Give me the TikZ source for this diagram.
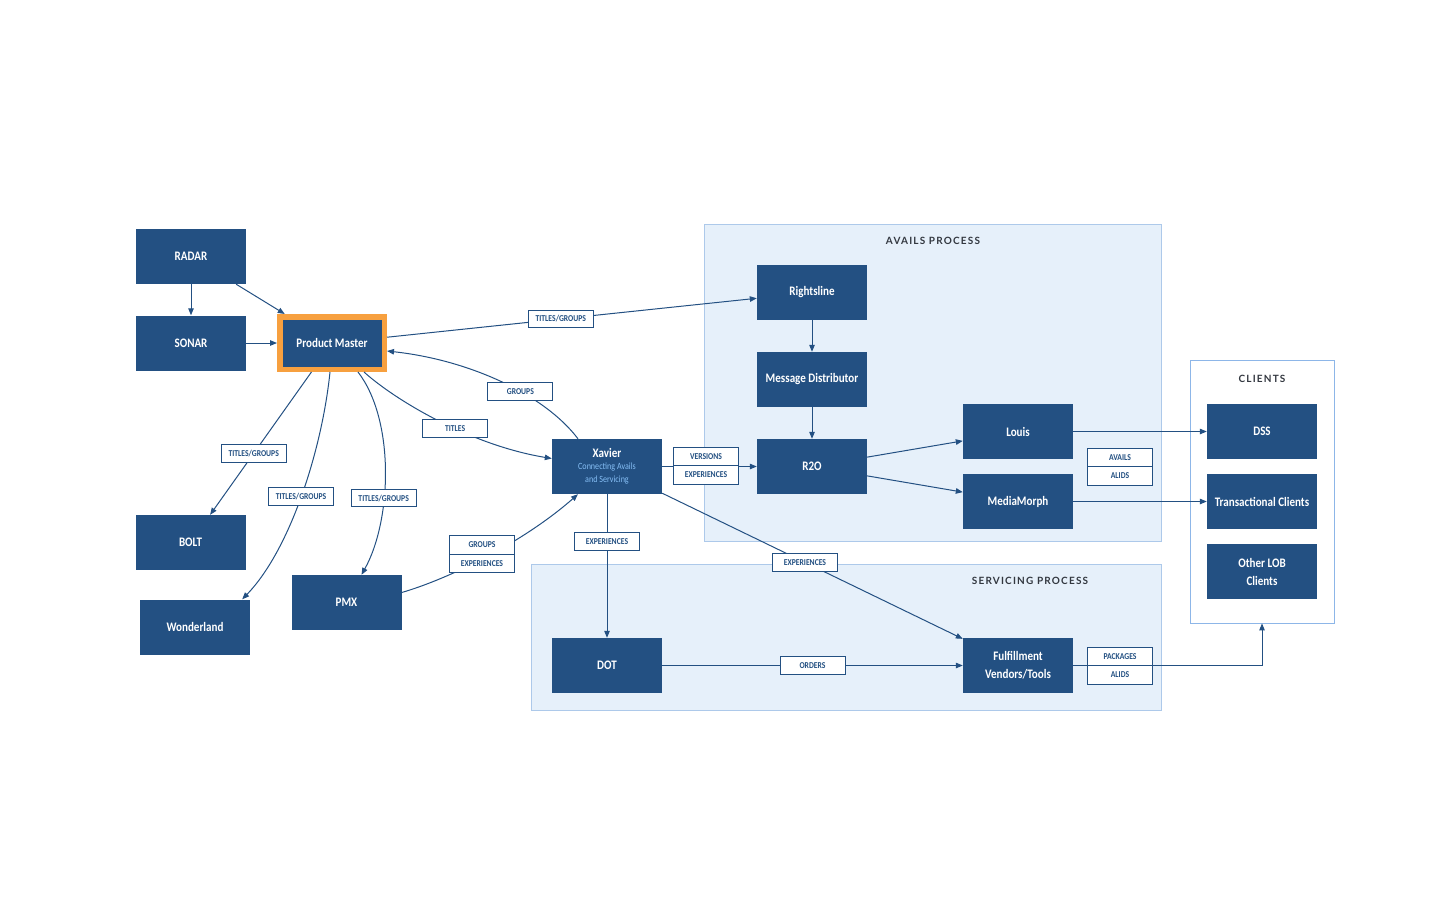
\documentclass[tikz,border=0pt]{standalone}
\usepackage{fontspec}
\setmainfont{Carlito}[FakeStretch=0.85]
\newfontfamily\headfont{Lato}[LetterSpace=12]
\usepackage{tikz}
\usetikzlibrary{arrows.meta, positioning, calc}
\definecolor{sysblue}{HTML}{235082}
\definecolor{pmorange}{HTML}{F7A03F}
\definecolor{zonefill}{HTML}{E6F0FA}
\definecolor{zoneedge}{HTML}{ADC9EA}
\definecolor{clientedge}{HTML}{8DB6E8}
\definecolor{subtext}{HTML}{85BEF5}
\definecolor{headtext}{HTML}{333840}
\tikzset{
  sysbox/.style={fill=sysblue, text=white, minimum width=110pt, minimum height=55pt,
    inner sep=2pt, align=center, font=\fontsize{13}{18}\selectfont\bfseries},
  tagbox/.style={draw=sysblue, fill=white, text=sysblue, line width=0.9pt,
    minimum width=65pt, minimum height=17.5pt, inner sep=1pt, outer sep=0pt,
    font=\fontsize{9}{10}\selectfont\bfseries},
  zone/.style={fill=zonefill, draw=zoneedge, line width=0.8pt, inner sep=0pt},
  zonetitle/.style={text=headtext, font=\headfont\bfseries\fontsize{10}{12}\selectfont},
  flow/.style={draw=sysblue, line width=1pt, -{Triangle[length=7pt,width=5.5pt]}},
}
\newcommand{\subline}[1]{{\fontsize{9.5}{10}\selectfont\mdseries\color{subtext}#1}}
\newcommand{\duotag}[5]{%
  \node[tagbox, minimum height=18.5pt] (#1up) at (#2,#3-9.25) {#4};
  \node[tagbox, minimum height=18.5pt, below=0pt of #1up] (#1dn) {#5};
}

\begin{document}
\begin{tikzpicture}[x=1pt, y=-1pt]
  \useasboundingbox (0,0) rectangle (1440,900);

  % Process zones
  \node[zone, minimum width=457pt, minimum height=317pt] (avails) at (932.5,382.5) {};
  \node[zone, minimum width=630pt, minimum height=146pt] (servicing) at (846,637) {};
  \node[zone, fill=white, draw=clientedge, minimum width=144pt, minimum height=263pt] (clients) at (1262,491.5) {};
  \node[zonetitle] (availshead) at (933,241) {AVAILS PROCESS};
  \node[zonetitle] (servhead) at (1030,581) {SERVICING PROCESS};
  \node[zonetitle] (clienthead) at (1262,379) {CLIENTS};

  % Systems
  \node[sysbox] (radar) at (191,256.5) {RADAR};
  \node[sysbox] (sonar) at (191,343) {SONAR};
  \node[sysbox, draw=pmorange, line width=5.5pt, minimum width=104.5pt, minimum height=52.5pt] (pm) at (332,343) {Product Master};
  \node[sysbox] (bolt) at (190.5,542.5) {BOLT};
  \node[sysbox] (wl) at (195,627) {Wonderland};
  \node[sysbox] (pmx) at (346.5,602.5) {PMX};
  \node[sysbox] (xav) at (607,466.5) {Xavier\\[-6pt]\subline{Connecting Avails}\\[-5pt]\subline{and Servicing}};
  \node[sysbox] (rl) at (812,292.5) {Rightsline};
  \node[sysbox] (md) at (812,379.5) {Message Distributor};
  \node[sysbox] (r2o) at (812,466.5) {R2O};
  \node[sysbox] (louis) at (1018,431.5) {Louis};
  \node[sysbox] (mm) at (1018,501.5) {MediaMorph};
  \node[sysbox] (dss) at (1262,431.5) {DSS};
  \node[sysbox] (tc) at (1262,501.5) {Transactional Clients};
  \node[sysbox] (lob) at (1262,571.5) {Other LOB\\Clients};
  \node[sysbox] (dot) at (607,665.5) {DOT};
  \node[sysbox] (ful) at (1018,665.5) {Fulfillment\\Vendors/Tools};

  % Sources into Product Master
  \draw[flow] (radar) -- (sonar);
  \draw[flow] (radar) -- (pm);
  \draw[flow] (sonar) -- (pm);

  % Product Master out
  \draw[flow] (pm) -- (rl) node[tagbox, pos=0.47] (tgrl) {TITLES/GROUPS};
  \draw[flow] (pm) -- (bolt) node[tagbox, pos=0.57] (tgbolt) {TITLES/GROUPS};
  \draw[flow] ([xshift=-2pt]pm.south) .. controls (322,450) and (290,550) .. ([xshift=-8pt]wl.north east)
    node[tagbox, pos=0.5] (tgwl) {TITLES/GROUPS};
  \draw[flow] ([xshift=26pt]pm.south) .. controls (395,420) and (392,520) .. ([xshift=15pt]pmx.north)
    node[tagbox, pos=0.62] (tgpmx) {TITLES/GROUPS};
  \draw[flow] ([xshift=32pt]pm.south) .. controls (395,400) and (470,445) .. ([yshift=8pt]xav.west)
    node[tagbox, pos=0.58] (tgtitles) {TITLES};
  \draw[flow] ([xshift=-29pt]xav.north) .. controls (545,395) and (470,360) .. ([yshift=-8pt]pm.east)
    node[tagbox, pos=0.4] (tggroups) {GROUPS};
  \draw[flow] ([yshift=10pt]pmx.east) .. controls (445,580) and (520,545) .. ([xshift=-29pt]xav.south);
  \duotag{tgpx}{482}{554}{GROUPS}{EXPERIENCES}

  % Xavier out
  \draw[flow] (xav) -- (r2o);
  \duotag{tgxr}{706}{465.5}{VERSIONS}{EXPERIENCES}
  \draw[flow] (xav) -- (dot) node[tagbox, pos=0.33] (tgdot) {EXPERIENCES};
  \draw[flow] (xav) -- (ful) node[tagbox, pos=0.475] (tgful) {EXPERIENCES};

  % Avails chain
  \draw[flow] (rl) -- (md);
  \draw[flow] (md) -- (r2o);
  \draw[flow] (r2o) -- (louis);
  \draw[flow] (r2o) -- (mm);
  \draw[flow] (louis) -- (dss);
  \draw[flow] (mm) -- (tc);
  \duotag{tgav}{1120}{466.5}{AVAILS}{ALIDS}

  % Servicing chain
  \draw[flow] (dot) -- (ful) node[tagbox, pos=0.5] (tgord) {ORDERS};
  \draw[flow] (ful.east) -| (clients.south);
  \duotag{tgfc}{1120}{665.5}{PACKAGES}{ALIDS}
\end{tikzpicture}
\end{document}
